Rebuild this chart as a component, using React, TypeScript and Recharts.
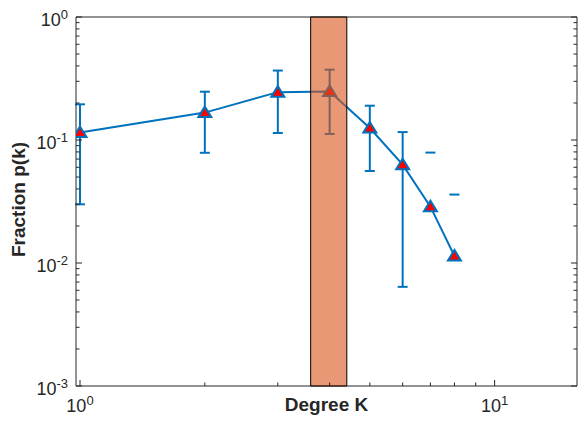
import React from "react";
import {
  ComposedChart,
  Line,
  Scatter,
  XAxis,
  YAxis,
  ErrorBar,
  ReferenceArea
} from "recharts";

// degree distribution, log-log
const degree = [1, 2, 3, 4, 5, 6, 7, 8];
const fraction = [0.115, 0.167, 0.245, 0.248, 0.125, 0.063, 0.0287, 0.0114];
const upper = [0.195, 0.247, 0.367, 0.373, 0.19, 0.116, 0.079, 0.036];
// null = lower bound not positive, nothing to draw on a log axis
const lower: (number | null)[] = [0.03, 0.0787, 0.114, 0.112, 0.056, 0.0064, null, null];

const band = [3.6, 4.4];

const xDomain = [0.978, 15.8];
const yDomain = [0.001, 1];
const xTicks = [1, 2, 3, 4, 5, 6, 7, 8, 9, 10];
const yDecades = [0.001, 0.01, 0.1];
const yTicks = [
  ...yDecades.flatMap((d) => [1, 2, 3, 4, 5, 6, 7, 8, 9].map((m) => Number((m * d).toPrecision(3)))),
  1
];

const rows = degree.map((k, i) => {
  const lo = lower[i];
  return {
    k,
    p: fraction[i],
    err: lo == null ? undefined : [fraction[i] - lo, upper[i] - fraction[i]]
  };
});

// points where only the upper cap survives
const capRows = degree
  .map((k, i) => ({ k, hi: upper[i], lo: lower[i] }))
  .filter((r) => r.lo == null);

const BLUE = "#0072BD";
const INK = "#262626";
const FONT = "'Liberation Sans', Arial, Helvetica, sans-serif";

const isDecade = (v: number) => Math.abs(Math.log10(v) - Math.round(Math.log10(v))) < 1e-9;

type Side = "bottom" | "top" | "left" | "right";

// inward tick marks, longer on decades, labels 10^n on the left/bottom only
const makeTick = (side: Side) => (props: any) => {
  const x = Number(props.x);
  const y = Number(props.y);
  const v = props.payload.value;
  const major = isDecade(v);
  const len = major ? 6 : 3.5;
  const exp = Math.round(Math.log10(v));
  let x2 = x;
  let y2 = y;
  if (side === "bottom") y2 = y - len;
  else if (side === "top") y2 = y + len;
  else if (side === "left") x2 = x + len;
  else x2 = x - len;

  let label = null;
  if (major && side === "bottom") {
    label = (
      <text x={x} y={y + 26} textAnchor="middle" fill={INK} stroke="none" fontSize={18} fontFamily={FONT}>
        <tspan>10</tspan>
        <tspan dy={-7} fontSize={13}>{exp}</tspan>
      </text>
    );
  } else if (major && side === "left") {
    label = (
      <text x={x - 8} y={y + 9} textAnchor="end" fill={INK} stroke="none" fontSize={18} fontFamily={FONT}>
        <tspan>10</tspan>
        <tspan dy={-7} fontSize={13}>{exp}</tspan>
      </text>
    );
  }
  return (
    <g>
      <line x1={x} y1={y} x2={x2} y2={y2} stroke={INK} strokeWidth={1} />
      {label}
    </g>
  );
};

const Triangle = (props: any) => {
  const { cx, cy, index } = props;
  if (cx == null || cy == null) return <g key={index} />;
  return (
    <polygon
      key={index}
      points={`${cx},${cy - 6} ${cx - 6.5},${cy + 4.5} ${cx + 6.5},${cy + 4.5}`}
      fill="#FF0000"
      stroke={BLUE}
      strokeWidth={2}
      strokeLinejoin="miter"
    />
  );
};

const Cap = (props: any) => {
  const { cx, cy } = props;
  return <line x1={cx - 5} y1={cy} x2={cx + 5} y2={cy} stroke={BLUE} strokeWidth={2} />;
};

const App: React.FC = () => {
  return (
    <div style={{ position: "absolute", left: 0, top: 0, background: "#fff" }}>
      <ComposedChart width={579} height={422} data={rows} margin={{ top: 16, right: 1, bottom: 0, left: 0 }}>
        <XAxis
          xAxisId={0}
          dataKey="k"
          type="number"
          scale="log"
          domain={xDomain}
          allowDataOverflow
          ticks={xTicks}
          interval={0}
          tickSize={0}
          tickMargin={0}
          tick={makeTick("bottom")}
          height={36}
          axisLine={{ stroke: INK, strokeWidth: 1 }}
          label={{
            value: "Degree K",
            position: "insideBottom",
            offset: 11,
            fill: INK,
            fontSize: 19,
            fontWeight: "bold",
            fontFamily: FONT
          }}
        />
        <XAxis
          xAxisId="top"
          orientation="top"
          type="number"
          scale="log"
          domain={xDomain}
          allowDataOverflow
          ticks={xTicks}
          interval={0}
          tickSize={0}
          tickMargin={0}
          tick={makeTick("top")}
          height={1}
          axisLine={{ stroke: INK, strokeWidth: 1 }}
        />
        <YAxis
          yAxisId={0}
          type="number"
          scale="log"
          domain={yDomain}
          allowDataOverflow
          ticks={yTicks}
          interval={0}
          tickSize={0}
          tickMargin={0}
          tick={makeTick("left")}
          width={76}
          axisLine={{ stroke: INK, strokeWidth: 1 }}
          label={{
            content: ({ viewBox }: any) => (
              <text
                x={25}
                y={viewBox.y + viewBox.height / 2 - 2}
                transform={`rotate(-90 25 ${viewBox.y + viewBox.height / 2 - 2})`}
                textAnchor="middle"
                fill={INK}
                fontSize={19}
                fontWeight="bold"
                fontFamily={FONT}
              >
                Fraction p(k)
              </text>
            )
          }}
        />
        <YAxis
          yAxisId="right"
          orientation="right"
          type="number"
          scale="log"
          domain={yDomain}
          allowDataOverflow
          ticks={yTicks}
          interval={0}
          tickSize={0}
          tickMargin={0}
          tick={makeTick("right")}
          width={1}
          axisLine={{ stroke: INK, strokeWidth: 1 }}
        />

        <Line
          dataKey="p"
          stroke={BLUE}
          strokeWidth={2}
          dot={Triangle}
          activeDot={false}
          isAnimationActive={false}
        >
          <ErrorBar dataKey="err" direction="y" width={5} stroke={BLUE} strokeWidth={2} />
        </Line>
        <Scatter data={capRows} dataKey="hi" shape={Cap} isAnimationActive={false} />

        <ReferenceArea
          x1={band[0]}
          x2={band[1]}
          fill="#D95319"
          fillOpacity={0.6}
          stroke="#000"
          strokeWidth={1}
          strokeOpacity={1}
          zIndex={700}
        />
      </ComposedChart>
    </div>
  );
};

export default App;
